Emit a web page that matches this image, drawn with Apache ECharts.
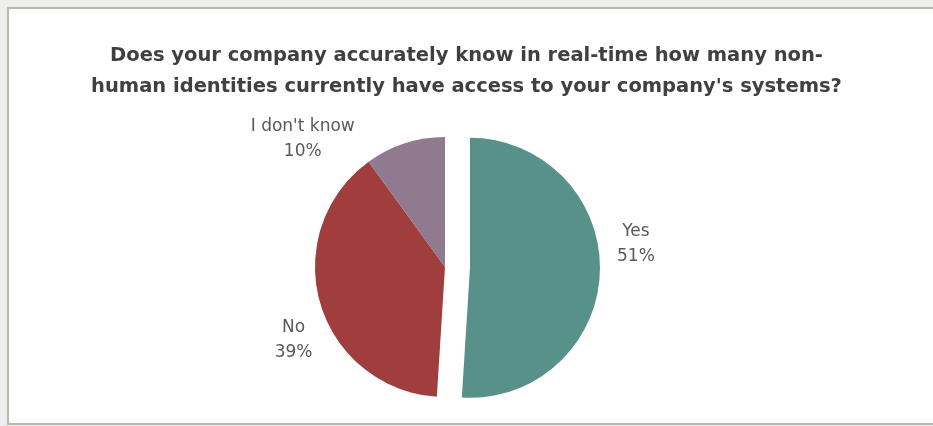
<!DOCTYPE html>
<html>
<head>
<meta charset="utf-8">
<script src="https://cdn.jsdelivr.net/npm/echarts@6/dist/echarts.min.js"></script>
<style>
  html, body { margin: 0; padding: 0; background: #efefef; }
  #chart { width: 933px; height: 426px; }
</style>
</head>
<body>
<div id="chart"></div>
<script>
// Survey answers and their shares (percent)
const answers = ['Yes', 'No', "I don't know"];
const shares = [51, 39, 10];
const sliceColors = ['#589189', '#a03d3d', '#8f7a90'];
const titleLines = [
  'Does your company accurately know in real-time how many non-',
  "human identities currently have access to your company's systems?"
];

const chart = echarts.init(document.getElementById('chart'));

// per-slice nudges for the outside labels
const labelShift = [
  { dx: 11, dy: -28 },
  { dx: -2, dy: 34 },
  { dx: -84, dy: 5 }
];

chart.setOption({
  backgroundColor: '#efefef',
  animation: false,
  graphic: [{
    type: 'rect',
    z: -1,
    shape: { x: 8, y: 8, width: 940, height: 416 },
    style: { fill: '#ffffff', stroke: '#bcb8a8', lineWidth: 2 }
  }],
  title: {
    text: titleLines.join('\n'),
    left: 'center',
    top: 35,
    textStyle: {
      fontFamily: 'DejaVu Sans',
      fontWeight: 'bold',
      fontSize: 19.5,
      lineHeight: 31,
      color: '#404040'
    }
  },
  series: [{
    type: 'pie',
    center: [445, 267],
    radius: 130,
    startAngle: 90,
    clockwise: true,
    selectedMode: 'single',
    selectedOffset: 25,
    avoidLabelOverlap: false,
    label: {
      show: true,
      position: 'outside',
      formatter: '{b}\n{d}%',
      fontFamily: 'DejaVu Sans',
      fontSize: 17,
      lineHeight: 25,
      color: '#595959'
    },
    labelLine: { show: false, length: 10, length2: 10 },
    labelLayout: function (p) {
      const s = labelShift[p.dataIndex];
      return { align: 'center', verticalAlign: 'middle', dx: s.dx, dy: s.dy };
    },
    emphasis: { disabled: true },
    data: answers.map((name, i) => ({
      name: name,
      value: shares[i],
      selected: i === 0,
      itemStyle: { color: sliceColors[i] }
    }))
  }]
});
</script>
</body>
</html>
